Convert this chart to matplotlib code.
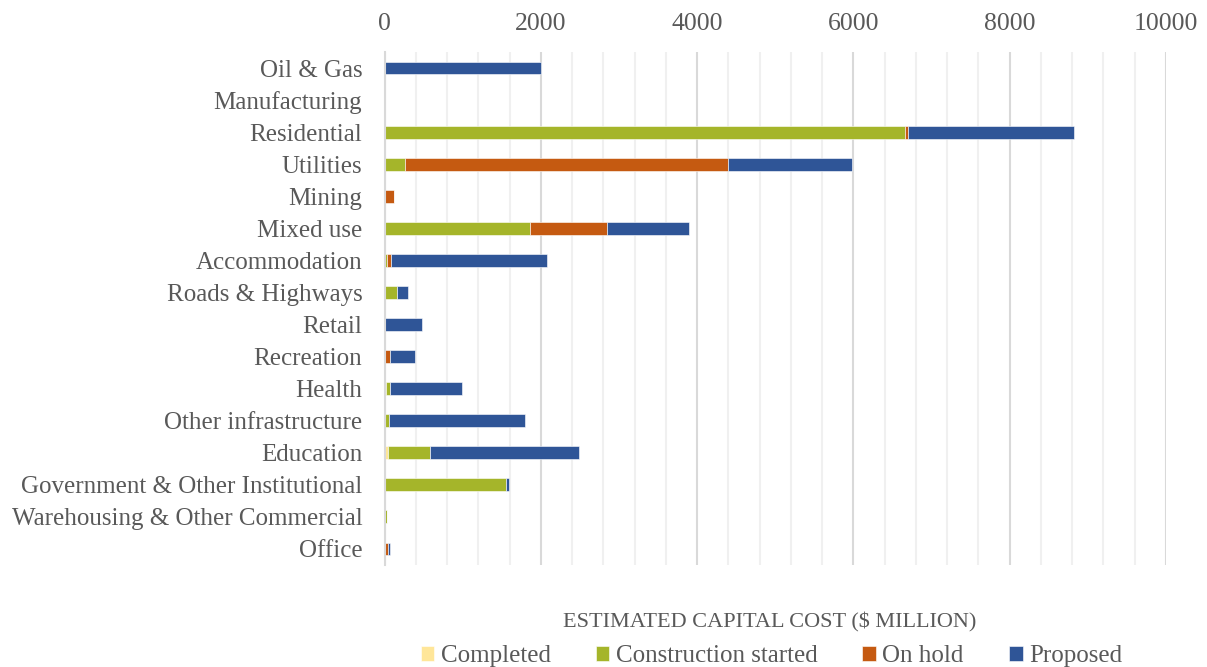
import matplotlib.pyplot as plt
import numpy as np
from matplotlib.ticker import MultipleLocator

# categories, top to bottom
categories = ['Oil & Gas', 'Manufacturing', 'Residential', 'Utilities', 'Mining',
              'Mixed use', 'Accommodation', 'Roads & Highways', 'Retail', 'Recreation',
              'Health', 'Other infrastructure', 'Education',
              'Government & Other Institutional', 'Warehousing & Other Commercial', 'Office']

completed    = [0, 0, 10, 0, 0, 0, 0, 0, 0, 0, 15, 0, 40, 0, 0, 0]
construction = [0, 0, 6645, 256, 0, 1855, 30, 155, 0, 0, 50, 55, 545, 1550, 30, 5]
on_hold      = [0, 0, 40, 4135, 125, 990, 55, 0, 0, 65, 0, 0, 0, 0, 0, 35]
proposed     = [2000, 0, 2125, 1590, 0, 1050, 2000, 145, 485, 325, 920, 1740, 1900, 45, 0, 25]

series = [('Completed', completed, '#FFE699'),
          ('Construction started', construction, '#A5B52A'),
          ('On hold', on_hold, '#C55A11'),
          ('Proposed', proposed, '#2F5597')]

plt.rcParams['font.family'] = ['Liberation Serif', 'DejaVu Serif']
txt = '#595959'

fig = plt.figure(figsize=(12.07, 6.67), dpi=100)
ax = fig.add_axes([0.3186, 0.153, 0.6474, 0.769])

y = np.arange(len(categories))
left = np.zeros(len(categories))
for name, vals, col in series:
    vals = np.array(vals, dtype=float)
    ax.barh(y, vals, left=left, height=0.4, color=col, label=name,
            edgecolor='white', linewidth=0.4)
    left += vals

ax.set_ylim(len(categories) - 0.5, -0.5)
ax.set_xlim(0, 10000)
ax.set_yticks(y)
ax.set_yticklabels(categories, fontsize=18, color=txt)
ax.xaxis.tick_top()
ax.xaxis.set_major_locator(MultipleLocator(2000))
ax.xaxis.set_minor_locator(MultipleLocator(400))
ax.tick_params(axis='x', which='both', length=0, labelsize=18.5, labelcolor=txt, pad=12)
ax.tick_params(axis='y', length=0, pad=16)
ax.grid(axis='x', which='major', color='#D9D9D9', linewidth=1.5)
ax.grid(axis='x', which='minor', color='#F0F0F0', linewidth=1.5)
ax.set_axisbelow(True)
for s in ['top', 'right', 'bottom']:
    ax.spines[s].set_visible(False)
ax.spines['left'].set_color('#D9D9D9')
ax.spines['left'].set_linewidth(1.5)

fig.text(0.638, 0.067, 'ESTIMATED CAPITAL COST ($ MILLION)', ha='center', va='center',
         fontsize=16, color=txt)
leg = fig.legend(loc='center', bbox_to_anchor=(0.639, 0.016), ncol=4, frameon=False,
                 fontsize=18, handlelength=0.55, handleheight=0.55, handletextpad=0.25,
                 columnspacing=1.8, labelcolor=txt)

fig.savefig('out.png', dpi=100)
